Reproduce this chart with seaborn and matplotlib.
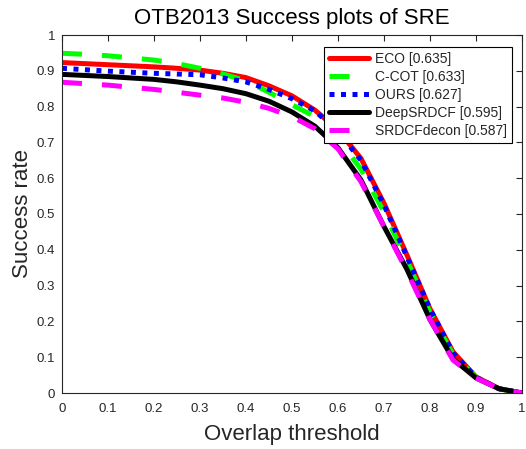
import numpy as np
import pandas as pd
import matplotlib
matplotlib.use("Agg")
import matplotlib.pyplot as plt
import seaborn as sns

# Overlap thresholds (OTB: 0:0.05:1)
thresholds = [0.0, 0.05, 0.1, 0.15, 0.2, 0.25, 0.3, 0.35, 0.4, 0.45, 0.5,
              0.55, 0.6, 0.65, 0.7, 0.75, 0.8, 0.85, 0.9, 0.95, 1.0]

# Success rates
eco = [0.923, 0.920, 0.917, 0.914, 0.911, 0.907, 0.902, 0.893, 0.881, 0.858, 0.830,
       0.790, 0.735, 0.655, 0.530, 0.385, 0.235, 0.115, 0.045, 0.012, 0.0]
ccot = [0.949, 0.946, 0.942, 0.936, 0.930, 0.920, 0.907, 0.891, 0.872, 0.840, 0.805,
        0.772, 0.710, 0.625, 0.505, 0.370, 0.225, 0.108, 0.044, 0.012, 0.0]
ours = [0.907, 0.903, 0.899, 0.896, 0.893, 0.891, 0.889, 0.880, 0.869, 0.848, 0.822,
        0.788, 0.730, 0.650, 0.525, 0.380, 0.235, 0.112, 0.044, 0.012, 0.0]
deep_srdcf = [0.890, 0.887, 0.884, 0.880, 0.876, 0.869, 0.860, 0.850, 0.836, 0.815, 0.785,
              0.745, 0.685, 0.595, 0.465, 0.345, 0.205, 0.095, 0.042, 0.012, 0.0]
srdcf_decon = [0.868, 0.864, 0.860, 0.854, 0.848, 0.840, 0.832, 0.824, 0.812, 0.795, 0.772,
               0.738, 0.682, 0.590, 0.465, 0.340, 0.205, 0.092, 0.042, 0.012, 0.0]

labels = ["ECO [0.635]", "C-COT [0.633]", "OURS [0.627]",
          "DeepSRDCF [0.595]", "SRDCFdecon [0.587]"]
series = [eco, ccot, ours, deep_srdcf, srdcf_decon]
colors = ["#ff0000", "#00ff00", "#0000ff", "#000000", "#ff00ff"]
styles = ["-", (0, (4, 4)), (0, (1, 1.3)), "-", (0, (4, 4))]

sns.set_style("white")
plt.rcParams["font.family"] = ["Liberation Sans", "DejaVu Sans"]

fig = plt.figure(figsize=(5.26, 4.49), dpi=100)
ax = fig.add_axes([62 / 526, 1 - 393 / 449, 460 / 526, 358 / 449])

for vals, lab, col, ls in zip(series, labels, colors, styles):
    df = pd.DataFrame({"thr": thresholds, "rate": vals})
    sns.lineplot(data=df, x="thr", y="rate", color=col, linestyle=ls,
                 linewidth=3.6, label=lab, ax=ax)

ax.set_xlim(0, 1)
ax.set_ylim(0, 1)
ticks = np.round(np.arange(0, 1.01, 0.1), 1)
ax.set_xticks(ticks)
ax.set_yticks(ticks)
ax.set_xticklabels([f"{t:g}" for t in ticks])
ax.set_yticklabels([f"{t:g}" for t in ticks])
ax.tick_params(direction="in", top=True, right=True, length=4, width=0.8,
               labelsize=9.5, colors="#262626")
ax.tick_params(axis="x", pad=7)
ax.tick_params(axis="y", pad=5)
for sp in ax.spines.values():
    sp.set_color("#262626")
    sp.set_linewidth(0.8)

ax.set_title("OTB2013 Success plots of SRE", fontsize=16, color="black", pad=8)
ax.set_xlabel("Overlap threshold", fontsize=16, color="#262626", labelpad=7)
ax.set_ylabel("Success rate", fontsize=16, color="#262626", labelpad=2.5)

leg = ax.legend(loc="upper right", bbox_to_anchor=(512 / 526, 1 - 46.7 / 449),
                bbox_transform=fig.transFigure, borderaxespad=0, fontsize=10,
                handlelength=2.85, handletextpad=0.45, labelspacing=0.3,
                borderpad=0.35, fancybox=False, framealpha=1, edgecolor="black")
leg.get_frame().set_linewidth(0.8)

fig.savefig("out.png", dpi=100)
